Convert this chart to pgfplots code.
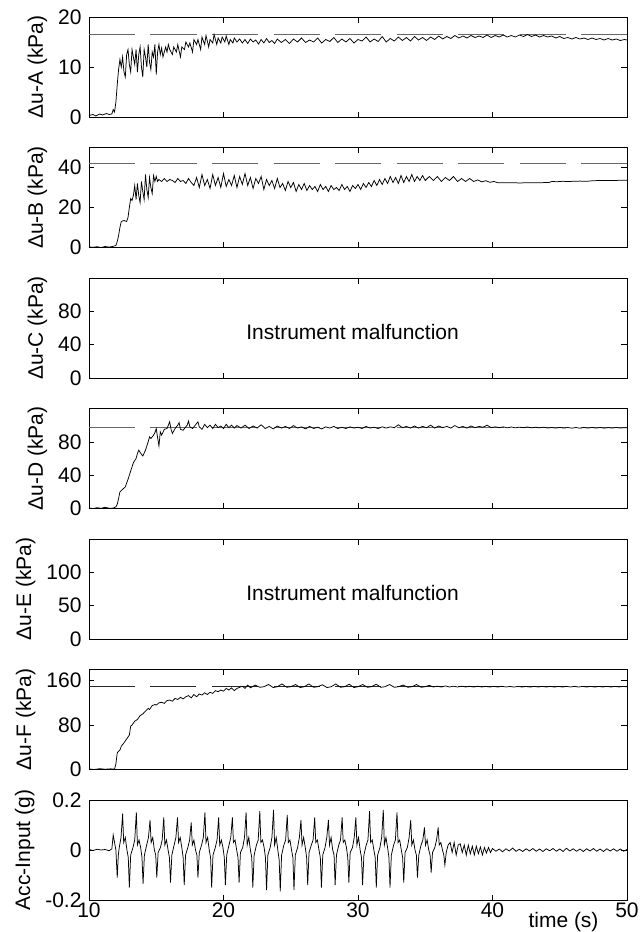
\documentclass[border=0pt]{standalone}
\usepackage{fontspec}
\setmainfont{Liberation Sans}
\usepackage{pgfplots}
\pgfplotsset{compat=1.18}
\pgfplotsset{
 panel/.style={
  width=538pt, height=100pt, scale only axis,
  xmin=10, xmax=50, xtick={10,20,30,40,50}, xticklabels={},
  tick align=inside, xtick pos=both, ytick pos=both,
  major tick length=5.5pt,
  axis line style={line width=0.8pt},
  tick style={black, line width=0.6pt},
  font=\fontsize{21}{24}\selectfont,
  /pgf/number format/assume math mode=true,
  ylabel style={font=\fontsize{21}{24}\selectfont},
  ylabel shift=4pt,
  ticklabel style={font=\fontsize{21}{24}\selectfont},
  yticklabel style={xshift=-4pt},
  xticklabel style={yshift=1pt},
 },
 dat/.style={black, line width=0.75pt, no markers},
 refl/.style={black!60, line width=0.8pt, dash pattern=on 46pt off 15.5pt, no markers}
}
\begin{document}
\begin{tikzpicture}
\useasboundingbox (-89pt,-932pt) rectangle (551pt,0pt);
% ---------------- A
\begin{axis}[panel, at={(0pt,-117pt)}, anchor=south west, ymin=0, ymax=20, ytick={0,10,20}, yticklabels={0,10,20}, ylabel={Δu-A (kPa)}]
\addplot[refl] coordinates {(10,16.5) (50,16.5)};
\addplot[dat] coordinates {
(10.0,0.3)(10.3,0.5)(10.5,0.2)(10.8,0.6)(11.0,0.4)(11.3,0.7)(11.5,0.5)(11.7,0.6)(11.8,1.5)(11.9,1.0)
(12.0,3.0)(12.1,6.5)(12.2,9.5)(12.3,11.5)(12.4,10.0)(12.5,12.0)(12.6,9.0)(12.7,8.0)(12.8,12.5)(12.9,13.5)
(13.0,10.5)(13.1,9.0)(13.2,13.5)(13.3,12.0)(13.4,10.5)(13.5,13.5)(13.6,9.0)(13.7,12.5)(13.8,14.0)(13.9,10.0)
(14.0,8.0)(14.1,13.5)(14.2,12.0)(14.3,10.0)(14.4,14.5)(14.5,11.0)(14.6,9.5)(14.7,13.0)(14.8,12.0)(14.9,14.5)
(15.0,8.5)(15.1,13.0)(15.2,14.5)(15.3,12.5)(15.4,13.8)(15.5,12.0)(15.7,14.0)(15.8,13.0)(15.9,14.5)(16.0,13.5)
(16.2,12.5)(16.3,14.0)(16.5,13.0)(16.6,14.5)(16.8,12.0)(16.9,14.0)(17.1,13.5)(17.2,15.0)(17.4,14.0)(17.5,14.8)
(17.7,13.0)(17.8,15.5)(18.0,14.5)(18.1,15.5)(18.3,13.5)(18.4,16.0)(18.6,14.5)(18.7,16.3)(18.9,14.0)(19.0,15.5)
(19.2,14.8)(19.3,16.5)(19.5,14.5)(19.6,15.8)(19.8,14.8)(19.9,16.0)(20.1,15.0)(20.2,16.2)(20.4,14.5)(20.5,15.5)
(20.7,14.8)(20.8,15.8)(21.0,15.0)(21.2,15.6)(21.4,14.8)(21.6,15.5)(21.8,14.7)(22.0,15.6)(22.2,15.0)(22.4,15.4)
(22.6,14.6)(22.8,15.5)(23.0,14.8)(23.2,15.7)(23.4,14.9)(23.6,15.3)(23.8,14.7)(24.0,15.6)
(24.3,14.9)(24.6,15.5)(24.9,14.7)(25.2,15.6)(25.5,15.0)(25.8,15.8)(26.1,14.9)(26.4,15.4)(26.7,15.0)(27.0,15.8)
(27.3,14.8)(27.6,15.5)(27.9,15.1)(28.2,15.9)(28.5,14.9)(28.8,15.6)(29.1,15.0)(29.4,15.7)(29.7,14.8)(30.0,15.5)
(30.3,15.2)(30.6,16.0)(30.9,15.0)(31.2,15.6)(31.5,15.1)(31.8,16.1)(32.1,15.0)(32.4,15.7)(32.7,15.2)(33.0,16.0)
(33.3,15.3)(33.6,15.9)(33.9,15.2)(34.2,16.1)(34.5,15.4)(34.8,15.9)(35.1,15.3)(35.4,16.0)(35.7,15.5)(36.0,16.2)
(36.3,15.6)(36.6,16.1)(36.9,15.7)(37.2,16.3)(37.5,15.8)(37.8,16.2)(38.1,15.8)(38.4,16.3)(38.7,15.9)(39.0,16.2)
(39.3,15.9)(39.6,16.4)(39.9,15.9)(40.2,16.3)(40.5,16.0)(40.8,16.4)(41.1,16.0)(41.4,16.3)(41.7,16.0)(42.0,16.4)
(42.3,16.1)(42.6,16.5)(42.9,16.1)(43.2,16.4)(43.5,16.0)(43.8,16.3)(44.1,16.0)(44.4,16.2)(44.7,15.8)(45.0,16.1)
(45.3,15.7)(45.6,15.9)(45.9,15.6)(46.2,15.9)(46.5,15.6)(46.8,15.8)(47.1,15.5)(47.4,15.8)(47.7,15.5)(48.0,15.7)
(48.3,15.4)(48.6,15.7)(48.9,15.4)(49.2,15.6)(49.5,15.3)(49.8,15.5)(50.0,15.4)};
\end{axis}
% ---------------- B
\begin{axis}[panel, at={(0pt,-247.5pt)}, anchor=south west, ymin=0, ymax=50, ytick={0,20,40}, yticklabels={0,20,40}, ylabel={Δu-B (kPa)}]
\addplot[refl] coordinates {(10,42) (50,42)};
\addplot[dat] coordinates {
(10.0,0.3)(10.3,0.1)(10.6,0.4)(10.9,0.0)(11.2,0.5)(11.5,0.2)(11.8,0.6)(12.0,1.0)(12.1,3.0)(12.2,6.0)
(12.3,10.0)(12.4,13.0)(12.6,13.5)(12.8,13.0)(12.9,15.0)(13.0,20.0)(13.1,24.5)(13.2,23.5)(13.3,26.0)(13.4,31.0)
(13.5,24.0)(13.6,32.0)(13.7,26.0)(13.8,22.5)(13.9,33.0)(14.0,28.0)(14.1,24.0)(14.2,36.5)(14.3,29.0)(14.4,25.0)
(14.5,35.0)(14.6,30.0)(14.7,27.0)(14.8,36.0)(14.9,33.0)(15.0,35.5)(15.1,33.0)(15.2,34.0)(15.4,33.0)(15.6,34.5)
(15.8,33.0)(16.0,34.0)(16.2,33.5)(16.4,32.5)(16.6,34.5)(16.8,33.0)(17.0,33.5)(17.2,32.0)(17.4,34.5)(17.6,32.5)
(17.8,31.0)(18.0,35.0)(18.2,30.0)(18.4,36.5)(18.6,31.0)(18.8,34.0)(19.0,29.5)(19.2,36.5)(19.4,31.0)(19.6,35.0)
(19.8,30.0)(20.0,37.0)(20.2,30.5)(20.4,34.0)(20.6,31.0)(20.8,36.0)(21.0,30.0)(21.2,35.5)(21.4,31.5)(21.6,37.0)
(21.8,31.0)(22.0,35.0)(22.2,29.5)(22.4,34.5)(22.6,32.0)(22.8,35.5)(23.0,29.0)(23.2,34.0)(23.4,31.0)(23.6,33.5)
(23.8,29.5)(24.0,34.5)(24.2,30.0)(24.4,32.0)(24.6,28.5)(24.8,33.0)(25.0,30.0)(25.2,32.5)(25.4,28.0)(25.6,31.5)
(25.8,29.0)(26.0,32.0)(26.2,28.5)(26.4,31.0)(26.6,29.0)(26.8,30.5)(27.0,28.0)(27.2,31.5)(27.4,29.0)(27.6,30.5)
(27.8,28.0)(28.0,31.0)(28.2,29.0)(28.4,30.0)(28.6,28.5)(28.8,31.5)(29.0,29.0)(29.2,30.5)(29.4,28.0)(29.6,31.0)
(29.8,29.5)(30.0,31.5)(30.2,29.0)(30.4,32.0)(30.6,30.0)(30.8,32.5)(31.0,30.5)(31.2,33.5)(31.4,31.0)(31.6,34.0)
(31.8,31.5)(32.0,34.5)(32.2,32.0)(32.4,35.5)(32.6,32.5)(32.8,35.0)(33.0,32.0)(33.2,36.0)(33.4,32.5)(33.6,35.5)
(33.8,33.0)(34.0,36.5)(34.2,33.0)(34.4,35.5)(34.6,33.5)(34.8,36.0)(35.0,33.5)(35.3,35.5)(35.6,33.5)(35.9,35.5)
(36.2,33.0)(36.5,35.0)(36.8,33.5)(37.1,35.5)(37.4,33.0)(37.7,34.5)(38.0,33.0)(38.3,34.5)(38.6,33.0)(38.9,33.8)
(39.2,32.8)(39.5,33.4)(39.8,32.6)(40.1,33.0)(40.4,32.4)(40.8,32.4)(42.0,32.3)(43.5,32.4)(44.2,32.5)(44.4,33.0)
(44.8,32.9)(45.2,33.1)(45.6,33.0)(46.0,33.1)(46.5,33.2)(47.0,33.1)(47.5,33.4)(48.0,33.5)(50.0,33.6)};
\end{axis}
% ---------------- C
\begin{axis}[panel, at={(0pt,-378pt)}, anchor=south west, ymin=0, ymax=120, ytick={0,40,80}, yticklabels={0,40,80}, ylabel={Δu-C (kPa)}]
\node[font=\fontsize{21}{24}\selectfont] at (axis description cs:0.49,0.46) {Instrument malfunction};
\end{axis}
% ---------------- D
\begin{axis}[panel, at={(0pt,-508.5pt)}, anchor=south west, ymin=0, ymax=120, ytick={0,40,80}, yticklabels={0,40,80}, ylabel={Δu-D (kPa)}]
\addplot[refl] coordinates {(10,97) (50,97)};
\addplot[dat] coordinates {
(10.0,0.5)(10.3,0.0)(10.6,1.0)(10.9,0.2)(11.2,1.5)(11.5,0.3)(11.8,0.5)(12.0,2.0)(12.1,5.0)(12.2,12.0)
(12.3,20.0)(12.5,23.0)(12.7,26.0)(12.9,35.0)(13.1,45.0)(13.3,55.0)(13.5,60.0)(13.6,66.0)(13.7,70.0)(13.9,65.0)
(14.0,63.0)(14.2,70.0)(14.4,80.0)(14.5,86.0)(14.6,84.0)(14.8,88.0)(14.9,91.0)(15.0,96.0)(15.1,85.0)(15.2,75.0)
(15.3,92.0)(15.4,88.0)(15.6,95.0)(15.8,96.0)(15.9,100.0)(16.0,104.0)(16.1,95.0)(16.2,90.0)(16.4,96.0)(16.6,100.0)
(16.7,103.0)(16.8,95.0)(17.0,94.0)(17.2,98.0)(17.3,100.0)(17.4,105.0)(17.5,98.0)(17.7,96.0)(17.9,100.0)(18.1,104.0)
(18.2,98.0)(18.4,95.0)(18.6,101.0)(18.8,97.0)(19.0,100.0)(19.2,96.0)(19.4,101.0)(19.6,97.0)(19.8,99.0)(20.0,96.0)
(20.2,101.0)(20.4,97.0)(20.6,100.0)(20.8,96.5)
(21.0,99.5)(21.3,96.5)(21.6,100.0)(21.9,96.0)(22.2,99.0)(22.5,96.5)(22.8,100.5)(23.1,96.0)(23.4,98.5)(23.7,95.5)
(24.0,99.0)(24.3,96.5)(24.6,98.5)(24.9,96.0)(25.2,99.5)(25.5,96.5)(25.8,98.0)(26.1,95.5)(26.4,98.5)(26.7,96.0)
(27.0,97.5)(27.3,95.5)(27.6,98.0)(27.9,96.5)(28.2,98.5)(28.5,96.0)(28.8,97.5)(29.1,96.0)(29.4,98.0)(29.7,96.5)
(30.0,97.5)(30.3,96.0)(30.6,98.5)(30.9,96.5)(31.2,97.5)(31.5,96.0)(31.8,98.0)(32.1,96.5)(32.4,98.0)(32.7,97.0)
(33.0,100.5)(33.3,97.0)(33.6,98.5)(33.9,96.5)(34.2,99.0)(34.5,96.5)(34.8,98.5)(35.1,97.0)(35.4,100.0)(35.7,96.5)
(36.0,99.0)(36.3,97.0)(36.6,98.5)(36.9,96.5)(37.2,99.5)(37.5,97.0)(37.8,98.5)(38.1,96.5)(38.4,99.0)(38.7,97.0)
(39.0,98.5)(39.3,97.5)(39.6,100.0)(39.9,97.0)(40.2,98.0)(40.5,97.0)(40.8,98.0)(41.1,96.8)(41.4,97.8)(41.7,96.8)
(42.0,97.6)(42.3,97.0)(42.6,97.8)(42.9,96.8)(43.2,97.5)(43.5,96.8)(43.8,97.6)(44.1,96.6)(44.4,97.2)(44.7,96.5)
(45.0,97.3)(45.3,96.5)(45.6,97.2)(45.9,96.4)(46.2,97.2)(46.5,96.4)(46.8,97.2)(47.1,96.5)(47.4,97.3)(47.7,96.5)
(48.0,97.2)(48.3,96.4)(48.6,97.1)(48.9,96.5)(49.2,97.2)(49.5,96.5)(49.8,97.0)(50.0,96.8)};
\end{axis}
% ---------------- E
\begin{axis}[panel, at={(0pt,-639pt)}, anchor=south west, ymin=0, ymax=150, ytick={0,50,100}, yticklabels={0,50,100}, ylabel={Δu-E (kPa)}]
\node[font=\fontsize{21}{24}\selectfont] at (axis description cs:0.49,0.46) {Instrument malfunction};
\end{axis}
% ---------------- F
\begin{axis}[panel, at={(0pt,-769.5pt)}, anchor=south west, ymin=0, ymax=180, ytick={0,80,160}, yticklabels={0,80,160}, ylabel={Δu-F (kPa)}]
\addplot[refl, black!85] coordinates {(10,149) (50,149)};
\addplot[dat] coordinates {
(10.0,1.0)(10.4,0.0)(10.8,1.5)(11.2,0.5)(11.6,1.2)(11.9,0.8)(12.0,10.0)(12.1,30.0)(12.2,33.0)(12.3,35.0)
(12.4,42.0)(12.5,45.0)(12.6,48.0)(12.8,55.0)(13.0,62.0)(13.1,78.0)(13.2,80.0)(13.4,87.0)(13.6,90.0)(13.8,97.0)
(14.0,100.0)(14.2,105.0)(14.4,110.0)(14.5,108.0)(14.7,115.0)(14.9,117.0)(15.0,116.0)(15.2,120.0)(15.4,121.0)(15.6,119.0)
(15.8,124.0)(16.0,125.0)(16.2,123.0)(16.4,128.0)(16.6,126.0)(16.8,130.0)(17.0,127.0)(17.2,131.0)(17.4,133.0)(17.6,129.0)
(17.8,135.0)(18.0,131.0)(18.2,136.0)(18.4,134.0)(18.6,138.0)(18.8,135.0)(19.0,139.0)(19.2,137.0)(19.4,142.0)(19.6,140.0)
(19.8,143.0)(20.0,141.0)(20.2,146.0)(20.4,143.0)(20.6,147.0)(20.8,142.0)(21.0,146.0)(21.2,148.0)(21.4,150.0)(21.6,146.0)
(21.8,152.0)(22.0,147.0)(22.35,152.0)(22.7,148.0)(23.0,149.0)(23.35,153.0)(23.7,147.5)(24.0,149.0)(24.35,154.0)(24.7,148.0)
(25.0,149.0)(25.35,153.0)(25.7,147.5)(26.0,149.0)(26.35,154.0)(26.7,148.0)(27.0,149.0)(27.35,152.5)(27.7,147.5)(28.0,149.0)
(28.35,154.0)(28.7,148.0)(29.0,149.0)(29.35,153.5)(29.7,147.5)(30.0,149.0)(30.35,153.0)(30.7,148.0)(31.0,149.0)(31.35,153.5)
(31.7,148.0)(32.0,149.0)(32.35,153.0)(32.7,148.0)(33.0,149.0)(33.35,152.0)(33.7,148.0)(34.0,149.0)(34.35,153.0)(34.7,148.0)
(35.0,149.0)(35.3,151.5)(35.6,148.5)(35.9,150.0)(36.2,148.5)(36.5,150.5)(36.8,148.5)(37.1,150.0)(37.4,148.5)(37.7,150.0)
(38.0,148.6)(38.3,149.8)(38.6,148.5)(38.9,149.8)(39.2,148.6)(39.5,149.6)(39.8,148.5)(40.1,149.6)(40.4,148.5)(40.7,149.8)
(41.0,148.6)(41.3,149.5)(41.6,148.4)(41.9,149.6)(42.2,148.5)(42.5,149.5)(42.8,148.4)(43.1,149.6)(43.4,148.6)(43.7,149.5)
(44.0,148.5)(44.3,149.6)(44.6,148.4)(44.9,149.5)(45.2,148.5)(45.5,149.6)(45.8,148.6)(46.1,149.7)(46.4,148.5)(46.7,149.6)
(47.0,148.5)(47.3,149.6)(47.6,148.4)(47.9,149.5)(48.2,148.6)(48.5,149.7)(48.8,148.5)(49.1,149.6)(49.4,148.6)(49.7,149.5)(50.0,149.0)};
\end{axis}
% ---------------- Acc
\begin{axis}[panel, at={(0pt,-900pt)}, anchor=south west, ymin=-0.2, ymax=0.2, ytick={-0.2,0,0.2}, yticklabels={-0.2,0,0.2},
  xticklabels={10,20,30,40,50}, ylabel={Acc-Input (g)}, xlabel={time (s)},
  xlabel style={at={(axis description cs:0.882,0)}, anchor=north, yshift=-9pt, font=\fontsize{21}{24}\selectfont}]
\addplot[dat] coordinates {
(10.0,0.002)(10.3,-0.002)(10.6,0.003)(10.9,0.0)(11.2,0.002)(11.5,-0.003)(11.7,0.005)(11.8,0.06)(11.9,0.03)(12.0,0.0)(12.1,-0.11)(12.18,-0.02)
(12.25,0.01)(12.38,0.05)(12.50,0.145)(12.58,0.03)(12.70,0.05)(12.82,0.0)(12.92,-0.03)(13.00,-0.15)(13.10,-0.02)
(13.27,0.01)(13.40,0.04)(13.52,0.15)(13.60,0.02)(13.72,0.04)(13.84,0.01)(13.94,-0.03)(14.02,-0.135)(14.12,-0.02)
(14.29,0.02)(14.42,0.05)(14.54,0.12)(14.62,0.03)(14.74,0.05)(14.86,0.0)(14.96,-0.02)(15.04,-0.11)(15.14,-0.01)
(15.31,0.01)(15.44,0.04)(15.56,0.13)(15.64,0.02)(15.76,0.04)(15.88,0.0)(15.98,-0.03)(16.06,-0.13)(16.16,-0.02)
(16.33,0.02)(16.46,0.05)(16.58,0.13)(16.66,0.03)(16.78,0.05)(16.90,0.01)(17.00,-0.03)(17.08,-0.14)(17.18,-0.02)
(17.35,0.01)(17.48,0.04)(17.60,0.11)(17.68,0.02)(17.80,0.04)(17.92,0.0)(18.02,-0.02)(18.10,-0.11)(18.20,-0.01)
(18.37,0.02)(18.50,0.05)(18.62,0.15)(18.70,0.03)(18.82,0.05)(18.94,0.0)(19.04,-0.03)(19.12,-0.15)(19.22,-0.02)
(19.39,0.01)(19.52,0.04)(19.64,0.13)(19.72,0.02)(19.84,0.04)(19.96,0.01)(20.06,-0.03)(20.14,-0.14)(20.24,-0.02)
(20.41,0.02)(20.54,0.05)(20.66,0.13)(20.74,0.03)(20.86,0.04)(20.98,0.0)(21.08,-0.03)(21.16,-0.13)(21.26,-0.01)
(21.43,0.01)(21.56,0.05)(21.68,0.15)(21.76,0.02)(21.88,0.05)(22.00,0.0)(22.10,-0.03)(22.18,-0.15)(22.28,-0.02)
(22.45,0.02)(22.58,0.04)(22.70,0.155)(22.78,0.03)(22.90,0.04)(23.02,0.01)(23.12,-0.03)(23.20,-0.16)(23.30,-0.02)
(23.47,0.01)(23.60,0.05)(23.72,0.16)(23.80,0.02)(23.92,0.05)(24.04,0.0)(24.14,-0.04)(24.22,-0.165)(24.32,-0.02)
(24.49,0.02)(24.62,0.04)(24.74,0.14)(24.82,0.03)(24.94,0.04)(25.06,0.0)(25.16,-0.03)(25.24,-0.16)(25.34,-0.02)
(25.51,0.01)(25.64,0.05)(25.76,0.12)(25.84,0.02)(25.96,0.05)(26.08,0.01)(26.18,-0.03)(26.26,-0.14)(26.36,-0.01)
(26.53,0.02)(26.66,0.04)(26.78,0.13)(26.86,0.03)(26.98,0.04)(27.10,0.0)(27.20,-0.03)(27.28,-0.15)(27.38,-0.02)
(27.55,0.01)(27.68,0.05)(27.80,0.12)(27.88,0.02)(28.00,0.05)(28.12,0.0)(28.22,-0.02)(28.30,-0.14)(28.40,-0.02)
(28.57,0.02)(28.70,0.04)(28.82,0.13)(28.90,0.03)(29.02,0.04)(29.14,0.01)(29.24,-0.03)(29.32,-0.13)(29.42,-0.01)
(29.59,0.01)(29.72,0.05)(29.84,0.13)(29.92,0.02)(30.04,0.05)(30.16,0.0)(30.26,-0.03)(30.34,-0.14)(30.44,-0.02)
(30.61,0.02)(30.74,0.04)(30.86,0.155)(30.94,0.03)(31.06,0.04)(31.18,0.0)(31.28,-0.03)(31.36,-0.15)(31.46,-0.02)
(31.63,0.01)(31.76,0.05)(31.88,0.16)(31.96,0.02)(32.08,0.05)(32.20,0.01)(32.30,-0.03)(32.38,-0.15)(32.48,-0.02)
(32.65,0.02)(32.78,0.04)(32.90,0.15)(32.98,0.03)(33.10,0.04)(33.22,0.0)(33.32,-0.03)(33.40,-0.13)(33.50,-0.01)
(33.67,0.01)(33.80,0.05)(33.92,0.12)(34.00,0.02)(34.12,0.04)(34.24,0.0)(34.34,-0.02)(34.42,-0.11)(34.52,-0.02)
(34.69,0.02)(34.82,0.04)(34.94,0.09)(35.02,0.02)(35.14,0.04)(35.26,0.0)(35.36,-0.02)(35.44,-0.09)(35.54,-0.01)
(35.71,0.01)(35.84,0.04)(35.96,0.09)(36.04,0.02)(36.16,0.03)(36.28,0.0)(36.38,-0.02)(36.46,-0.06)(36.56,-0.01)
(36.70,0.02)(36.85,0.03)(37.00,-0.01)(37.15,0.03)(37.30,-0.02)(37.45,0.02)(37.60,0.025)(37.75,-0.01)(37.90,0.02)(38.05,-0.02)
(38.20,0.02)(38.35,-0.015)(38.50,0.015)(38.65,-0.02)(38.80,0.015)(38.95,-0.015)(39.10,0.012)(39.25,-0.02)(39.40,0.01)(39.55,-0.012)
(39.70,0.01)(39.85,-0.01)(40.00,0.006)(40.25,-0.005)(40.50,0.004)(40.75,-0.007)(41.00,0.005)(41.25,-0.004)(41.50,0.008)(41.75,-0.005)
(42.00,0.003)(42.25,-0.006)(42.50,0.005)(42.75,-0.004)(43.00,0.006)(43.25,-0.005)(43.50,0.004)(43.75,-0.006)(44.00,0.005)(44.25,-0.003)
(44.50,0.006)(44.75,-0.005)(45.00,0.004)(45.25,-0.006)(45.50,0.007)(45.75,-0.004)(46.00,0.005)(46.25,-0.005)(46.50,0.004)(46.75,-0.006)
(47.00,0.005)(47.25,-0.004)(47.50,0.006)(47.75,-0.005)(48.00,0.004)(48.25,-0.006)(48.50,0.005)(48.75,-0.004)(49.00,0.005)(49.25,-0.005)
(49.50,0.004)(49.75,-0.005)(50.00,0.002)};
\end{axis}
\end{tikzpicture}
\end{document}
